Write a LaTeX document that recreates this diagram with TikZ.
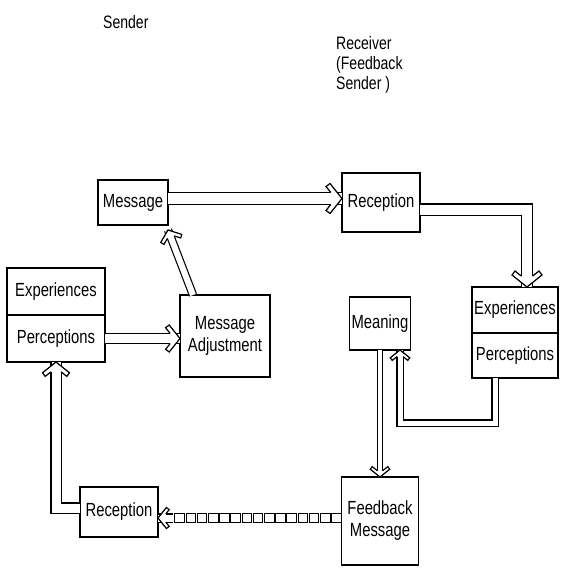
\documentclass[tikz,border=0pt]{standalone}
\usepackage{fontspec}
\setmainfont[FakeStretch=0.78]{Liberation Sans}
\usetikzlibrary{decorations.markings,calc}
% hollow chevron arrow head; #1 = double distance, #2 = size factor
\newcommand\chevtip[2]{%
  \pgfmathsetmacro\hh{#1/2+0.6}%
  \pgfmathsetmacro\ax{-12*#2}\pgfmathsetmacro\ay{15*#2}%
  \pgfmathsetmacro\bx{-16*#2}\pgfmathsetmacro\by{12*#2}%
  \pgfmathsetmacro\xq{\bx+0.8*(\by-\hh)}%
  \fill[white] (0pt,0pt) -- (\ax pt,\ay pt) -- (\bx pt,\by pt) -- (\xq pt,\hh pt)
     -- (\xq pt,-\hh pt) -- (\bx pt,-\by pt) -- (\ax pt,-\ay pt) -- cycle;
  \draw[black, line width=1.2pt, line join=miter] (\xq pt,\hh pt) -- (\bx pt,\by pt)
     -- (\ax pt,\ay pt) -- (0pt,0pt) -- (\ax pt,-\ay pt) -- (\bx pt,-\by pt) -- (\xq pt,-\hh pt);}
\begin{document}
\begin{tikzpicture}[x=1pt,y=-1pt,
  box/.style={draw, line width=1.3pt, inner sep=2pt, outer sep=0pt,
    font=\fontsize{19}{22}\selectfont, align=center},
  lbl/.style={font=\fontsize{18}{20}\selectfont, align=left, inner sep=0pt},
  dbl/.style args={#1/#2}{draw=none,
    preaction={draw, double, double distance=#1pt, line width=1.2pt},
    postaction={decorate, decoration={markings,
      mark=at position 1 with {\chevtip{#1}{#2}}}}},
  link/.style={line width=1.1pt}]
\useasboundingbox (0,0) rectangle (561,570);

\node[lbl, anchor=west] (sender) at (103,22) {Sender};
\node[lbl, anchor=north west] (recv) at (336,36) {Receiver\\(Feedback\\Sender )};

\node[box, minimum width=70pt, minimum height=45pt] (msg) at (133,202.5) {Message};
\node[box, minimum width=90pt, minimum height=82pt] (adj) at (225,336) {Message\\Adjustment};
\node[box, minimum width=98pt, minimum height=47pt] (exp1) at (56,291.5) {Experiences};
\node[box, minimum width=98pt, minimum height=47pt] (per1) at (56,338.5) {Perceptions};
\node[box, minimum width=78pt, minimum height=59pt] (rec1) at (381,202.5) {Reception};
\node[box, minimum width=86pt, minimum height=46pt] (exp2) at (515,310) {Experiences};
\node[box, minimum width=86pt, minimum height=45pt] (per2) at (515,355.5) {Perceptions};
\node[box, minimum width=60pt, minimum height=53pt] (mean) at (380,323.5) {Meaning};
\node[box, minimum width=77pt, minimum height=88pt] (fb) at (380,521) {Feedback\\Message};
\node[box, minimum width=78pt, minimum height=50pt] (rec2) at (119,512) {Reception};

% connectors
\path[dbl=11/1] ($(msg.east)+(0,-4)$) -- ($(rec1.west)+(0,-4)$);
\path[dbl=10/1] ($(rec1.east)+(0,7)$) -| ($(exp2.north)+(12,0)$);
\path[dbl=5/0.65] ($(per2.south)+(-20,0)$) -- ++(0,45) -| ($(mean.south)+(20,0)$);
\path[dbl=4/0.65] (mean.south) -- (fb.north);
\path[dbl=9/0.9] ($(rec2.west)+(0,-4)$) -| (per1.south);
\path[dbl=9/0.9] (per1.east) -- (per1.east -| adj.west);
\path[dbl=6/0.75] ($(adj.north west)+(13,0)$) -- ($(msg.south east)+(0,5)$);

% feedback chain
\coordinate (cs) at ($(fb.west)+(0,-3)$);
\coordinate (ce) at (cs -| rec2.east);
\path[postaction={decorate}, decoration={markings,
   mark=between positions 0.03 and 1 step 11.2pt with
   {\draw[link] (-4.8pt,-4.5pt) rectangle (4.8pt,4.5pt);}}]
   (cs) -- ($(ce)+(18,0)$);
\path[dbl=7/0.7] ($(ce)+(15,0)$) -- (ce);
\end{tikzpicture}
\end{document}
